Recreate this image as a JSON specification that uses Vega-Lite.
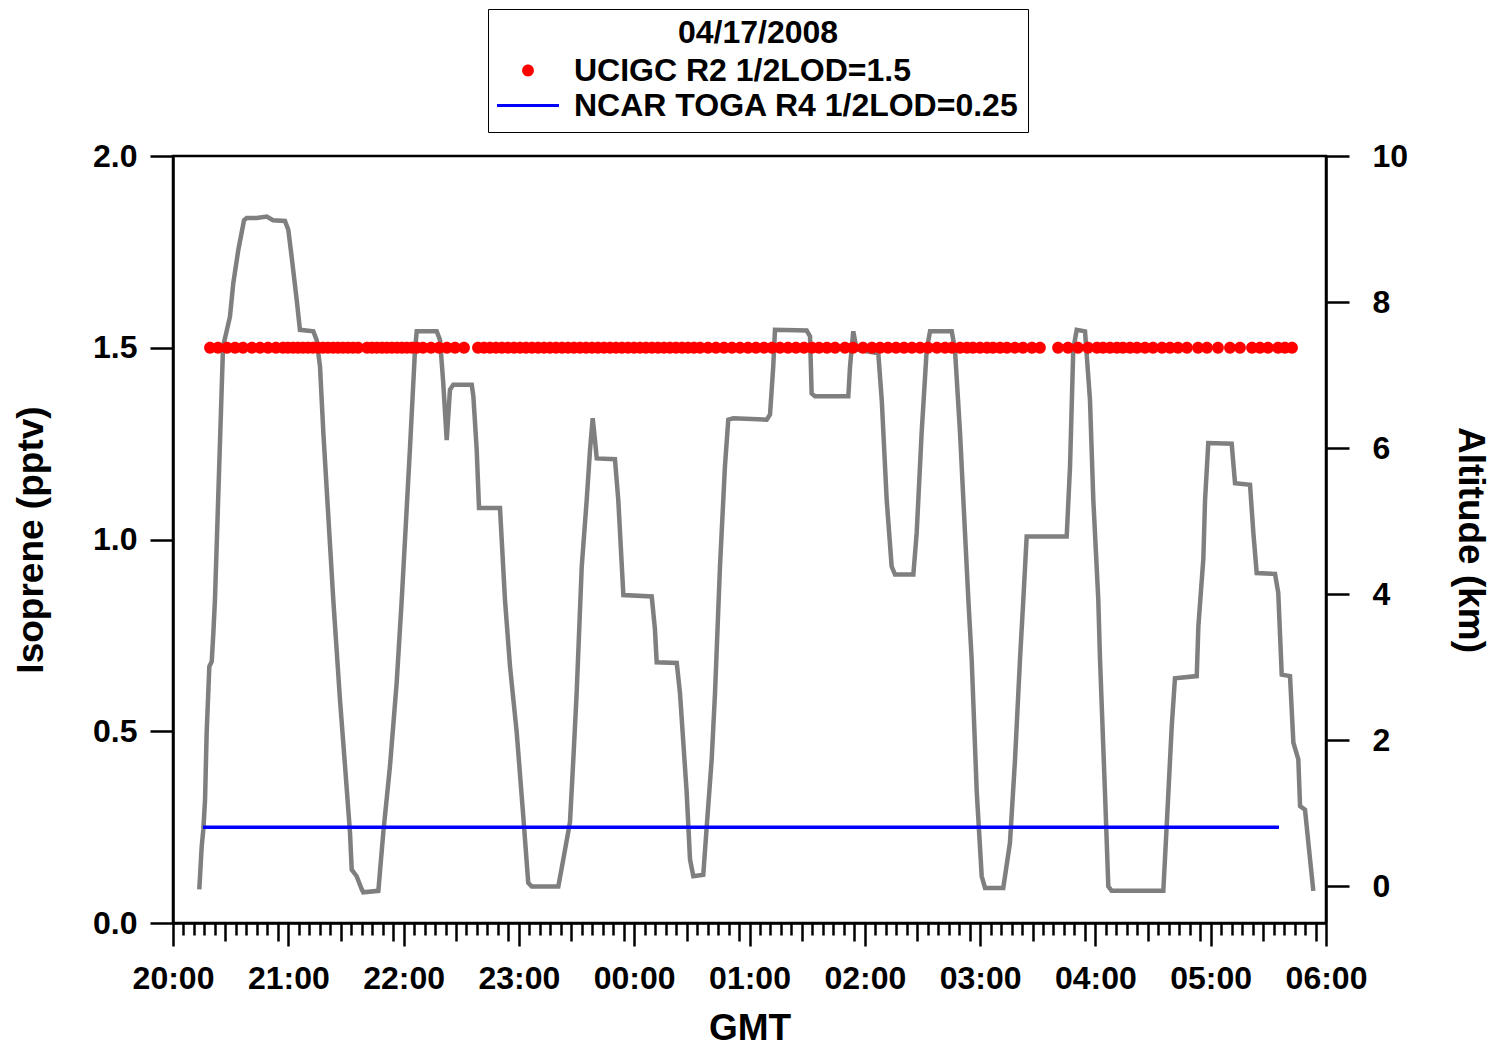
{
  "$schema": "https://vega.github.io/schema/vega-lite/v6.json",
  "width": 1153,
  "height": 767,
  "autosize": {"type": "none"},
  "padding": {"left": 173, "top": 156, "right": 169, "bottom": 125},
  "background": "white",
  "config": {
    "font": "Liberation Sans",
    "view": {"stroke": "black", "strokeWidth": 2.5},
    "axis": {
      "grid": false,
      "domainColor": "black",
      "domainWidth": 2.5,
      "tickColor": "black",
      "tickWidth": 2.5,
      "labelColor": "black",
      "labelFont": "Liberation Sans",
      "labelFontSize": 32,
      "labelFontWeight": "bold",
      "titleColor": "black",
      "titleFont": "Liberation Sans",
      "titleFontSize": 37,
      "titleFontWeight": "bold"
    }
  },
  "datasets": {
    "altitude": [
      {"gmt_hour": 20.228, "alt_km": -0.04}, {"gmt_hour": 20.249, "alt_km": 0.55}, {"gmt_hour": 20.263, "alt_km": 0.78},
      {"gmt_hour": 20.278, "alt_km": 1.19}, {"gmt_hour": 20.292, "alt_km": 2.11}, {"gmt_hour": 20.315, "alt_km": 3.01},
      {"gmt_hour": 20.336, "alt_km": 3.08}, {"gmt_hour": 20.35, "alt_km": 3.47}, {"gmt_hour": 20.364, "alt_km": 3.93},
      {"gmt_hour": 20.434, "alt_km": 7.39}, {"gmt_hour": 20.494, "alt_km": 7.8}, {"gmt_hour": 20.523, "alt_km": 8.26},
      {"gmt_hour": 20.566, "alt_km": 8.71}, {"gmt_hour": 20.616, "alt_km": 9.12}, {"gmt_hour": 20.639, "alt_km": 9.15},
      {"gmt_hour": 20.726, "alt_km": 9.15}, {"gmt_hour": 20.813, "alt_km": 9.17}, {"gmt_hour": 20.867, "alt_km": 9.12},
      {"gmt_hour": 20.971, "alt_km": 9.11}, {"gmt_hour": 21.0, "alt_km": 8.99}, {"gmt_hour": 21.029, "alt_km": 8.62},
      {"gmt_hour": 21.073, "alt_km": 8.03}, {"gmt_hour": 21.101, "alt_km": 7.62}, {"gmt_hour": 21.217, "alt_km": 7.6},
      {"gmt_hour": 21.246, "alt_km": 7.48}, {"gmt_hour": 21.275, "alt_km": 7.12}, {"gmt_hour": 21.304, "alt_km": 6.21},
      {"gmt_hour": 21.39, "alt_km": 3.93}, {"gmt_hour": 21.448, "alt_km": 2.56}, {"gmt_hour": 21.492, "alt_km": 1.65},
      {"gmt_hour": 21.535, "alt_km": 0.74}, {"gmt_hour": 21.55, "alt_km": 0.23}, {"gmt_hour": 21.593, "alt_km": 0.14},
      {"gmt_hour": 21.637, "alt_km": -0.04}, {"gmt_hour": 21.65, "alt_km": -0.08}, {"gmt_hour": 21.781, "alt_km": -0.06},
      {"gmt_hour": 21.824, "alt_km": 0.74}, {"gmt_hour": 21.882, "alt_km": 1.65}, {"gmt_hour": 21.94, "alt_km": 2.79},
      {"gmt_hour": 21.984, "alt_km": 3.93}, {"gmt_hour": 22.056, "alt_km": 6.02}, {"gmt_hour": 22.099, "alt_km": 7.35},
      {"gmt_hour": 22.114, "alt_km": 7.6}, {"gmt_hour": 22.287, "alt_km": 7.6}, {"gmt_hour": 22.316, "alt_km": 7.48},
      {"gmt_hour": 22.344, "alt_km": 6.89}, {"gmt_hour": 22.374, "alt_km": 6.11}, {"gmt_hour": 22.402, "alt_km": 6.8},
      {"gmt_hour": 22.431, "alt_km": 6.87}, {"gmt_hour": 22.591, "alt_km": 6.87}, {"gmt_hour": 22.605, "alt_km": 6.71},
      {"gmt_hour": 22.634, "alt_km": 5.98}, {"gmt_hour": 22.654, "alt_km": 5.18}, {"gmt_hour": 22.836, "alt_km": 5.18},
      {"gmt_hour": 22.879, "alt_km": 3.93}, {"gmt_hour": 22.923, "alt_km": 3.01}, {"gmt_hour": 22.981, "alt_km": 2.11},
      {"gmt_hour": 23.038, "alt_km": 0.96}, {"gmt_hour": 23.081, "alt_km": 0.05}, {"gmt_hour": 23.111, "alt_km": 0.0},
      {"gmt_hour": 23.342, "alt_km": 0.0}, {"gmt_hour": 23.385, "alt_km": 0.37}, {"gmt_hour": 23.443, "alt_km": 0.88},
      {"gmt_hour": 23.472, "alt_km": 1.74}, {"gmt_hour": 23.501, "alt_km": 2.65}, {"gmt_hour": 23.545, "alt_km": 4.38},
      {"gmt_hour": 23.588, "alt_km": 5.29}, {"gmt_hour": 23.617, "alt_km": 5.98}, {"gmt_hour": 23.64, "alt_km": 6.41},
      {"gmt_hour": 23.66, "alt_km": 6.11}, {"gmt_hour": 23.675, "alt_km": 5.86}, {"gmt_hour": 23.833, "alt_km": 5.85},
      {"gmt_hour": 23.862, "alt_km": 5.29}, {"gmt_hour": 23.906, "alt_km": 3.99}, {"gmt_hour": 24.152, "alt_km": 3.97},
      {"gmt_hour": 24.18, "alt_km": 3.52}, {"gmt_hour": 24.195, "alt_km": 3.07}, {"gmt_hour": 24.369, "alt_km": 3.06},
      {"gmt_hour": 24.397, "alt_km": 2.65}, {"gmt_hour": 24.426, "alt_km": 1.97}, {"gmt_hour": 24.455, "alt_km": 1.29},
      {"gmt_hour": 24.484, "alt_km": 0.37}, {"gmt_hour": 24.513, "alt_km": 0.14}, {"gmt_hour": 24.599, "alt_km": 0.16},
      {"gmt_hour": 24.629, "alt_km": 0.82}, {"gmt_hour": 24.672, "alt_km": 1.74}, {"gmt_hour": 24.701, "alt_km": 2.65},
      {"gmt_hour": 24.744, "alt_km": 4.38}, {"gmt_hour": 24.787, "alt_km": 5.75}, {"gmt_hour": 24.816, "alt_km": 6.39},
      {"gmt_hour": 24.86, "alt_km": 6.41}, {"gmt_hour": 25.149, "alt_km": 6.39}, {"gmt_hour": 25.178, "alt_km": 6.46},
      {"gmt_hour": 25.206, "alt_km": 7.12}, {"gmt_hour": 25.221, "alt_km": 7.62}, {"gmt_hour": 25.496, "alt_km": 7.61},
      {"gmt_hour": 25.525, "alt_km": 7.53}, {"gmt_hour": 25.539, "alt_km": 6.75}, {"gmt_hour": 25.568, "alt_km": 6.71},
      {"gmt_hour": 25.857, "alt_km": 6.71}, {"gmt_hour": 25.872, "alt_km": 7.12}, {"gmt_hour": 25.9, "alt_km": 7.6},
      {"gmt_hour": 25.93, "alt_km": 7.35}, {"gmt_hour": 26.117, "alt_km": 7.3}, {"gmt_hour": 26.147, "alt_km": 6.66},
      {"gmt_hour": 26.19, "alt_km": 5.29}, {"gmt_hour": 26.233, "alt_km": 4.38}, {"gmt_hour": 26.262, "alt_km": 4.27},
      {"gmt_hour": 26.421, "alt_km": 4.27}, {"gmt_hour": 26.45, "alt_km": 4.84}, {"gmt_hour": 26.493, "alt_km": 6.21},
      {"gmt_hour": 26.537, "alt_km": 7.35}, {"gmt_hour": 26.566, "alt_km": 7.6}, {"gmt_hour": 26.754, "alt_km": 7.6},
      {"gmt_hour": 26.782, "alt_km": 7.35}, {"gmt_hour": 26.826, "alt_km": 6.21}, {"gmt_hour": 26.869, "alt_km": 4.84},
      {"gmt_hour": 26.898, "alt_km": 3.93}, {"gmt_hour": 26.927, "alt_km": 3.11}, {"gmt_hour": 26.971, "alt_km": 1.29},
      {"gmt_hour": 27.014, "alt_km": 0.14}, {"gmt_hour": 27.043, "alt_km": -0.02}, {"gmt_hour": 27.201, "alt_km": -0.02},
      {"gmt_hour": 27.259, "alt_km": 0.6}, {"gmt_hour": 27.303, "alt_km": 1.74}, {"gmt_hour": 27.346, "alt_km": 3.11},
      {"gmt_hour": 27.375, "alt_km": 3.93}, {"gmt_hour": 27.404, "alt_km": 4.79}, {"gmt_hour": 27.751, "alt_km": 4.79},
      {"gmt_hour": 27.78, "alt_km": 5.75}, {"gmt_hour": 27.808, "alt_km": 7.35}, {"gmt_hour": 27.838, "alt_km": 7.62},
      {"gmt_hour": 27.91, "alt_km": 7.6}, {"gmt_hour": 27.953, "alt_km": 6.66}, {"gmt_hour": 27.982, "alt_km": 5.29},
      {"gmt_hour": 28.025, "alt_km": 3.93}, {"gmt_hour": 28.04, "alt_km": 3.11}, {"gmt_hour": 28.083, "alt_km": 1.29},
      {"gmt_hour": 28.112, "alt_km": 0.0}, {"gmt_hour": 28.141, "alt_km": -0.06}, {"gmt_hour": 28.589, "alt_km": -0.06},
      {"gmt_hour": 28.618, "alt_km": 0.82}, {"gmt_hour": 28.662, "alt_km": 2.19}, {"gmt_hour": 28.69, "alt_km": 2.85},
      {"gmt_hour": 28.879, "alt_km": 2.88}, {"gmt_hour": 28.893, "alt_km": 3.56}, {"gmt_hour": 28.936, "alt_km": 4.48},
      {"gmt_hour": 28.951, "alt_km": 5.29}, {"gmt_hour": 28.979, "alt_km": 6.07}, {"gmt_hour": 29.182, "alt_km": 6.06},
      {"gmt_hour": 29.211, "alt_km": 5.52}, {"gmt_hour": 29.341, "alt_km": 5.5}, {"gmt_hour": 29.37, "alt_km": 4.84},
      {"gmt_hour": 29.399, "alt_km": 4.29}, {"gmt_hour": 29.558, "alt_km": 4.28}, {"gmt_hour": 29.586, "alt_km": 4.02},
      {"gmt_hour": 29.616, "alt_km": 2.9}, {"gmt_hour": 29.688, "alt_km": 2.88}, {"gmt_hour": 29.717, "alt_km": 1.97},
      {"gmt_hour": 29.76, "alt_km": 1.74}, {"gmt_hour": 29.775, "alt_km": 1.1}, {"gmt_hour": 29.818, "alt_km": 1.05},
      {"gmt_hour": 29.847, "alt_km": 0.6}, {"gmt_hour": 29.89, "alt_km": -0.06}
    ],
    "toga": [
      {"gmt_hour": 20.26, "isoprene": 0.25}, {"gmt_hour": 20.5, "isoprene": 0.25}, {"gmt_hour": 21.0, "isoprene": 0.25},
      {"gmt_hour": 21.5, "isoprene": 0.25}, {"gmt_hour": 22.0, "isoprene": 0.25}, {"gmt_hour": 22.5, "isoprene": 0.25},
      {"gmt_hour": 23.0, "isoprene": 0.25}, {"gmt_hour": 23.5, "isoprene": 0.25}, {"gmt_hour": 24.0, "isoprene": 0.25},
      {"gmt_hour": 24.5, "isoprene": 0.25}, {"gmt_hour": 25.0, "isoprene": 0.25}, {"gmt_hour": 25.5, "isoprene": 0.25},
      {"gmt_hour": 26.0, "isoprene": 0.25}, {"gmt_hour": 26.5, "isoprene": 0.25}, {"gmt_hour": 27.0, "isoprene": 0.25},
      {"gmt_hour": 27.5, "isoprene": 0.25}, {"gmt_hour": 28.0, "isoprene": 0.25}, {"gmt_hour": 28.5, "isoprene": 0.25},
      {"gmt_hour": 29.0, "isoprene": 0.25}, {"gmt_hour": 29.5, "isoprene": 0.25}, {"gmt_hour": 29.592, "isoprene": 0.25}
    ],
    "ucigc": [
      {"gmt_hour": 20.321, "isoprene": 1.5, "series": "UCIGC R2 1/2LOD=1.5"}, {"gmt_hour": 20.39, "isoprene": 1.5, "series": "UCIGC R2 1/2LOD=1.5"},
      {"gmt_hour": 20.468, "isoprene": 1.5, "series": "UCIGC R2 1/2LOD=1.5"}, {"gmt_hour": 20.538, "isoprene": 1.5, "series": "UCIGC R2 1/2LOD=1.5"},
      {"gmt_hour": 20.607, "isoprene": 1.5, "series": "UCIGC R2 1/2LOD=1.5"}, {"gmt_hour": 20.685, "isoprene": 1.5, "series": "UCIGC R2 1/2LOD=1.5"},
      {"gmt_hour": 20.755, "isoprene": 1.5, "series": "UCIGC R2 1/2LOD=1.5"}, {"gmt_hour": 20.824, "isoprene": 1.5, "series": "UCIGC R2 1/2LOD=1.5"},
      {"gmt_hour": 20.893, "isoprene": 1.5, "series": "UCIGC R2 1/2LOD=1.5"}, {"gmt_hour": 20.954, "isoprene": 1.5, "series": "UCIGC R2 1/2LOD=1.5"},
      {"gmt_hour": 20.997, "isoprene": 1.5, "series": "UCIGC R2 1/2LOD=1.5"}, {"gmt_hour": 21.041, "isoprene": 1.5, "series": "UCIGC R2 1/2LOD=1.5"},
      {"gmt_hour": 21.084, "isoprene": 1.5, "series": "UCIGC R2 1/2LOD=1.5"}, {"gmt_hour": 21.127, "isoprene": 1.5, "series": "UCIGC R2 1/2LOD=1.5"},
      {"gmt_hour": 21.171, "isoprene": 1.5, "series": "UCIGC R2 1/2LOD=1.5"}, {"gmt_hour": 21.214, "isoprene": 1.5, "series": "UCIGC R2 1/2LOD=1.5"},
      {"gmt_hour": 21.258, "isoprene": 1.5, "series": "UCIGC R2 1/2LOD=1.5"}, {"gmt_hour": 21.301, "isoprene": 1.5, "series": "UCIGC R2 1/2LOD=1.5"},
      {"gmt_hour": 21.344, "isoprene": 1.5, "series": "UCIGC R2 1/2LOD=1.5"}, {"gmt_hour": 21.388, "isoprene": 1.5, "series": "UCIGC R2 1/2LOD=1.5"},
      {"gmt_hour": 21.431, "isoprene": 1.5, "series": "UCIGC R2 1/2LOD=1.5"}, {"gmt_hour": 21.474, "isoprene": 1.5, "series": "UCIGC R2 1/2LOD=1.5"},
      {"gmt_hour": 21.518, "isoprene": 1.5, "series": "UCIGC R2 1/2LOD=1.5"}, {"gmt_hour": 21.561, "isoprene": 1.5, "series": "UCIGC R2 1/2LOD=1.5"},
      {"gmt_hour": 21.605, "isoprene": 1.5, "series": "UCIGC R2 1/2LOD=1.5"}, {"gmt_hour": 21.683, "isoprene": 1.5, "series": "UCIGC R2 1/2LOD=1.5"},
      {"gmt_hour": 21.726, "isoprene": 1.5, "series": "UCIGC R2 1/2LOD=1.5"}, {"gmt_hour": 21.769, "isoprene": 1.5, "series": "UCIGC R2 1/2LOD=1.5"},
      {"gmt_hour": 21.813, "isoprene": 1.5, "series": "UCIGC R2 1/2LOD=1.5"}, {"gmt_hour": 21.856, "isoprene": 1.5, "series": "UCIGC R2 1/2LOD=1.5"},
      {"gmt_hour": 21.899, "isoprene": 1.5, "series": "UCIGC R2 1/2LOD=1.5"}, {"gmt_hour": 21.943, "isoprene": 1.5, "series": "UCIGC R2 1/2LOD=1.5"},
      {"gmt_hour": 21.986, "isoprene": 1.5, "series": "UCIGC R2 1/2LOD=1.5"}, {"gmt_hour": 22.029, "isoprene": 1.5, "series": "UCIGC R2 1/2LOD=1.5"},
      {"gmt_hour": 22.073, "isoprene": 1.5, "series": "UCIGC R2 1/2LOD=1.5"}, {"gmt_hour": 22.116, "isoprene": 1.5, "series": "UCIGC R2 1/2LOD=1.5"},
      {"gmt_hour": 22.168, "isoprene": 1.5, "series": "UCIGC R2 1/2LOD=1.5"}, {"gmt_hour": 22.238, "isoprene": 1.5, "series": "UCIGC R2 1/2LOD=1.5"},
      {"gmt_hour": 22.307, "isoprene": 1.5, "series": "UCIGC R2 1/2LOD=1.5"}, {"gmt_hour": 22.376, "isoprene": 1.5, "series": "UCIGC R2 1/2LOD=1.5"},
      {"gmt_hour": 22.446, "isoprene": 1.5, "series": "UCIGC R2 1/2LOD=1.5"}, {"gmt_hour": 22.524, "isoprene": 1.5, "series": "UCIGC R2 1/2LOD=1.5"},
      {"gmt_hour": 22.645, "isoprene": 1.5, "series": "UCIGC R2 1/2LOD=1.5"}, {"gmt_hour": 22.697, "isoprene": 1.5, "series": "UCIGC R2 1/2LOD=1.5"},
      {"gmt_hour": 22.749, "isoprene": 1.5, "series": "UCIGC R2 1/2LOD=1.5"}, {"gmt_hour": 22.801, "isoprene": 1.5, "series": "UCIGC R2 1/2LOD=1.5"},
      {"gmt_hour": 22.853, "isoprene": 1.5, "series": "UCIGC R2 1/2LOD=1.5"}, {"gmt_hour": 22.905, "isoprene": 1.5, "series": "UCIGC R2 1/2LOD=1.5"},
      {"gmt_hour": 22.957, "isoprene": 1.5, "series": "UCIGC R2 1/2LOD=1.5"}, {"gmt_hour": 23.01, "isoprene": 1.5, "series": "UCIGC R2 1/2LOD=1.5"},
      {"gmt_hour": 23.062, "isoprene": 1.5, "series": "UCIGC R2 1/2LOD=1.5"}, {"gmt_hour": 23.114, "isoprene": 1.5, "series": "UCIGC R2 1/2LOD=1.5"},
      {"gmt_hour": 23.166, "isoprene": 1.5, "series": "UCIGC R2 1/2LOD=1.5"}, {"gmt_hour": 23.218, "isoprene": 1.5, "series": "UCIGC R2 1/2LOD=1.5"},
      {"gmt_hour": 23.27, "isoprene": 1.5, "series": "UCIGC R2 1/2LOD=1.5"}, {"gmt_hour": 23.322, "isoprene": 1.5, "series": "UCIGC R2 1/2LOD=1.5"},
      {"gmt_hour": 23.374, "isoprene": 1.5, "series": "UCIGC R2 1/2LOD=1.5"}, {"gmt_hour": 23.426, "isoprene": 1.5, "series": "UCIGC R2 1/2LOD=1.5"},
      {"gmt_hour": 23.478, "isoprene": 1.5, "series": "UCIGC R2 1/2LOD=1.5"}, {"gmt_hour": 23.53, "isoprene": 1.5, "series": "UCIGC R2 1/2LOD=1.5"},
      {"gmt_hour": 23.582, "isoprene": 1.5, "series": "UCIGC R2 1/2LOD=1.5"}, {"gmt_hour": 23.634, "isoprene": 1.5, "series": "UCIGC R2 1/2LOD=1.5"},
      {"gmt_hour": 23.686, "isoprene": 1.5, "series": "UCIGC R2 1/2LOD=1.5"}, {"gmt_hour": 23.738, "isoprene": 1.5, "series": "UCIGC R2 1/2LOD=1.5"},
      {"gmt_hour": 23.79, "isoprene": 1.5, "series": "UCIGC R2 1/2LOD=1.5"}, {"gmt_hour": 23.842, "isoprene": 1.5, "series": "UCIGC R2 1/2LOD=1.5"},
      {"gmt_hour": 23.894, "isoprene": 1.5, "series": "UCIGC R2 1/2LOD=1.5"}, {"gmt_hour": 23.946, "isoprene": 1.5, "series": "UCIGC R2 1/2LOD=1.5"},
      {"gmt_hour": 23.998, "isoprene": 1.5, "series": "UCIGC R2 1/2LOD=1.5"}, {"gmt_hour": 24.05, "isoprene": 1.5, "series": "UCIGC R2 1/2LOD=1.5"},
      {"gmt_hour": 24.102, "isoprene": 1.5, "series": "UCIGC R2 1/2LOD=1.5"}, {"gmt_hour": 24.154, "isoprene": 1.5, "series": "UCIGC R2 1/2LOD=1.5"},
      {"gmt_hour": 24.206, "isoprene": 1.5, "series": "UCIGC R2 1/2LOD=1.5"}, {"gmt_hour": 24.258, "isoprene": 1.5, "series": "UCIGC R2 1/2LOD=1.5"},
      {"gmt_hour": 24.31, "isoprene": 1.5, "series": "UCIGC R2 1/2LOD=1.5"}, {"gmt_hour": 24.362, "isoprene": 1.5, "series": "UCIGC R2 1/2LOD=1.5"},
      {"gmt_hour": 24.415, "isoprene": 1.5, "series": "UCIGC R2 1/2LOD=1.5"}, {"gmt_hour": 24.467, "isoprene": 1.5, "series": "UCIGC R2 1/2LOD=1.5"},
      {"gmt_hour": 24.519, "isoprene": 1.5, "series": "UCIGC R2 1/2LOD=1.5"}, {"gmt_hour": 24.571, "isoprene": 1.5, "series": "UCIGC R2 1/2LOD=1.5"},
      {"gmt_hour": 24.64, "isoprene": 1.5, "series": "UCIGC R2 1/2LOD=1.5"}, {"gmt_hour": 24.709, "isoprene": 1.5, "series": "UCIGC R2 1/2LOD=1.5"},
      {"gmt_hour": 24.779, "isoprene": 1.5, "series": "UCIGC R2 1/2LOD=1.5"}, {"gmt_hour": 24.848, "isoprene": 1.5, "series": "UCIGC R2 1/2LOD=1.5"},
      {"gmt_hour": 24.918, "isoprene": 1.5, "series": "UCIGC R2 1/2LOD=1.5"}, {"gmt_hour": 24.987, "isoprene": 1.5, "series": "UCIGC R2 1/2LOD=1.5"},
      {"gmt_hour": 25.056, "isoprene": 1.5, "series": "UCIGC R2 1/2LOD=1.5"}, {"gmt_hour": 25.126, "isoprene": 1.5, "series": "UCIGC R2 1/2LOD=1.5"},
      {"gmt_hour": 25.195, "isoprene": 1.5, "series": "UCIGC R2 1/2LOD=1.5"}, {"gmt_hour": 25.264, "isoprene": 1.5, "series": "UCIGC R2 1/2LOD=1.5"},
      {"gmt_hour": 25.334, "isoprene": 1.5, "series": "UCIGC R2 1/2LOD=1.5"}, {"gmt_hour": 25.403, "isoprene": 1.5, "series": "UCIGC R2 1/2LOD=1.5"},
      {"gmt_hour": 25.473, "isoprene": 1.5, "series": "UCIGC R2 1/2LOD=1.5"}, {"gmt_hour": 25.542, "isoprene": 1.5, "series": "UCIGC R2 1/2LOD=1.5"},
      {"gmt_hour": 25.603, "isoprene": 1.5, "series": "UCIGC R2 1/2LOD=1.5"}, {"gmt_hour": 25.672, "isoprene": 1.5, "series": "UCIGC R2 1/2LOD=1.5"},
      {"gmt_hour": 25.742, "isoprene": 1.5, "series": "UCIGC R2 1/2LOD=1.5"}, {"gmt_hour": 25.828, "isoprene": 1.5, "series": "UCIGC R2 1/2LOD=1.5"},
      {"gmt_hour": 25.898, "isoprene": 1.5, "series": "UCIGC R2 1/2LOD=1.5"}, {"gmt_hour": 25.984, "isoprene": 1.5, "series": "UCIGC R2 1/2LOD=1.5"},
      {"gmt_hour": 26.062, "isoprene": 1.5, "series": "UCIGC R2 1/2LOD=1.5"}, {"gmt_hour": 26.132, "isoprene": 1.5, "series": "UCIGC R2 1/2LOD=1.5"},
      {"gmt_hour": 26.201, "isoprene": 1.5, "series": "UCIGC R2 1/2LOD=1.5"}, {"gmt_hour": 26.271, "isoprene": 1.5, "series": "UCIGC R2 1/2LOD=1.5"},
      {"gmt_hour": 26.34, "isoprene": 1.5, "series": "UCIGC R2 1/2LOD=1.5"}, {"gmt_hour": 26.409, "isoprene": 1.5, "series": "UCIGC R2 1/2LOD=1.5"},
      {"gmt_hour": 26.479, "isoprene": 1.5, "series": "UCIGC R2 1/2LOD=1.5"}, {"gmt_hour": 26.548, "isoprene": 1.5, "series": "UCIGC R2 1/2LOD=1.5"},
      {"gmt_hour": 26.626, "isoprene": 1.5, "series": "UCIGC R2 1/2LOD=1.5"}, {"gmt_hour": 26.696, "isoprene": 1.5, "series": "UCIGC R2 1/2LOD=1.5"},
      {"gmt_hour": 26.756, "isoprene": 1.5, "series": "UCIGC R2 1/2LOD=1.5"}, {"gmt_hour": 26.826, "isoprene": 1.5, "series": "UCIGC R2 1/2LOD=1.5"},
      {"gmt_hour": 26.886, "isoprene": 1.5, "series": "UCIGC R2 1/2LOD=1.5"}, {"gmt_hour": 26.938, "isoprene": 1.5, "series": "UCIGC R2 1/2LOD=1.5"},
      {"gmt_hour": 26.999, "isoprene": 1.5, "series": "UCIGC R2 1/2LOD=1.5"}, {"gmt_hour": 27.06, "isoprene": 1.5, "series": "UCIGC R2 1/2LOD=1.5"},
      {"gmt_hour": 27.112, "isoprene": 1.5, "series": "UCIGC R2 1/2LOD=1.5"}, {"gmt_hour": 27.173, "isoprene": 1.5, "series": "UCIGC R2 1/2LOD=1.5"},
      {"gmt_hour": 27.233, "isoprene": 1.5, "series": "UCIGC R2 1/2LOD=1.5"}, {"gmt_hour": 27.303, "isoprene": 1.5, "series": "UCIGC R2 1/2LOD=1.5"},
      {"gmt_hour": 27.372, "isoprene": 1.5, "series": "UCIGC R2 1/2LOD=1.5"}, {"gmt_hour": 27.45, "isoprene": 1.5, "series": "UCIGC R2 1/2LOD=1.5"},
      {"gmt_hour": 27.519, "isoprene": 1.5, "series": "UCIGC R2 1/2LOD=1.5"}, {"gmt_hour": 27.676, "isoprene": 1.5, "series": "UCIGC R2 1/2LOD=1.5"},
      {"gmt_hour": 27.762, "isoprene": 1.5, "series": "UCIGC R2 1/2LOD=1.5"}, {"gmt_hour": 27.849, "isoprene": 1.5, "series": "UCIGC R2 1/2LOD=1.5"},
      {"gmt_hour": 27.936, "isoprene": 1.5, "series": "UCIGC R2 1/2LOD=1.5"}, {"gmt_hour": 28.014, "isoprene": 1.5, "series": "UCIGC R2 1/2LOD=1.5"},
      {"gmt_hour": 28.066, "isoprene": 1.5, "series": "UCIGC R2 1/2LOD=1.5"}, {"gmt_hour": 28.127, "isoprene": 1.5, "series": "UCIGC R2 1/2LOD=1.5"},
      {"gmt_hour": 28.187, "isoprene": 1.5, "series": "UCIGC R2 1/2LOD=1.5"}, {"gmt_hour": 28.239, "isoprene": 1.5, "series": "UCIGC R2 1/2LOD=1.5"},
      {"gmt_hour": 28.3, "isoprene": 1.5, "series": "UCIGC R2 1/2LOD=1.5"}, {"gmt_hour": 28.361, "isoprene": 1.5, "series": "UCIGC R2 1/2LOD=1.5"},
      {"gmt_hour": 28.43, "isoprene": 1.5, "series": "UCIGC R2 1/2LOD=1.5"}, {"gmt_hour": 28.5, "isoprene": 1.5, "series": "UCIGC R2 1/2LOD=1.5"},
      {"gmt_hour": 28.578, "isoprene": 1.5, "series": "UCIGC R2 1/2LOD=1.5"}, {"gmt_hour": 28.647, "isoprene": 1.5, "series": "UCIGC R2 1/2LOD=1.5"},
      {"gmt_hour": 28.716, "isoprene": 1.5, "series": "UCIGC R2 1/2LOD=1.5"}, {"gmt_hour": 28.794, "isoprene": 1.5, "series": "UCIGC R2 1/2LOD=1.5"},
      {"gmt_hour": 28.89, "isoprene": 1.5, "series": "UCIGC R2 1/2LOD=1.5"}, {"gmt_hour": 28.968, "isoprene": 1.5, "series": "UCIGC R2 1/2LOD=1.5"},
      {"gmt_hour": 29.063, "isoprene": 1.5, "series": "UCIGC R2 1/2LOD=1.5"}, {"gmt_hour": 29.167, "isoprene": 1.5, "series": "UCIGC R2 1/2LOD=1.5"},
      {"gmt_hour": 29.254, "isoprene": 1.5, "series": "UCIGC R2 1/2LOD=1.5"}, {"gmt_hour": 29.358, "isoprene": 1.5, "series": "UCIGC R2 1/2LOD=1.5"},
      {"gmt_hour": 29.427, "isoprene": 1.5, "series": "UCIGC R2 1/2LOD=1.5"}, {"gmt_hour": 29.497, "isoprene": 1.5, "series": "UCIGC R2 1/2LOD=1.5"},
      {"gmt_hour": 29.584, "isoprene": 1.5, "series": "UCIGC R2 1/2LOD=1.5"}, {"gmt_hour": 29.644, "isoprene": 1.5, "series": "UCIGC R2 1/2LOD=1.5"},
      {"gmt_hour": 29.705, "isoprene": 1.5, "series": "UCIGC R2 1/2LOD=1.5"}
    ]
  },
  "resolve": {"scale": {"y": "independent"}, "axis": {"x": "independent", "y": "independent"}},
  "layer": [
    {
      "data": {"name": "altitude"},
      "mark": {"type": "line", "color": "#7f7f7f", "strokeWidth": 4.5, "clip": true},
      "encoding": {
        "x": {
          "field": "gmt_hour", "type": "quantitative",
          "scale": {"domain": [20, 30], "nice": false, "zero": false},
          "axis": {
            "orient": "bottom", "title": "GMT",
            "values": [20, 21, 22, 23, 24, 25, 26, 27, 28, 29, 30],
            "labelExpr": "((datum.value % 24) < 10 ? '0' : '') + (datum.value % 24) + ':00'",
            "tickSize": 23, "labelPadding": 17, "titlePadding": 16,
            "labelFlush": false, "labelOverlap": false
          }
        },
        "y": {
          "field": "alt_km", "type": "quantitative",
          "scale": {"domain": [-0.5, 10], "nice": false, "zero": false},
          "axis": {
            "orient": "right", "title": "Altitude (km)",
            "values": [0, 2, 4, 6, 8, 10],
            "tickSize": 23, "labelPadding": 23, "titlePadding": 43,
            "titleAngle": 90
          }
        }
      }
    },
    {
      "data": {"name": "toga"},
      "mark": {"type": "line", "color": "#0000ff", "strokeWidth": 3.5},
      "encoding": {
        "x": {
          "field": "gmt_hour", "type": "quantitative",
          "scale": {"domain": [20, 30], "nice": false, "zero": false},
          "axis": {
            "orient": "bottom", "title": null, "labels": false, "domain": false,
            "tickSize": 18,
            "values": [20.4545, 20.9091, 21.4545, 21.9091, 22.4545, 22.9091, 23.4545, 23.9091, 24.4545, 24.9091,
                       25.4545, 25.9091, 26.4545, 26.9091, 27.4545, 27.9091, 28.4545, 28.9091, 29.4545, 29.9091]
          }
        },
        "y": {
          "field": "isoprene", "type": "quantitative",
          "scale": {"domain": [0, 2], "nice": false},
          "axis": {
            "orient": "left", "title": "Isoprene (pptv)",
            "values": [0, 0.5, 1, 1.5, 2], "format": ".1f",
            "tickSize": 23, "labelPadding": 13, "titlePadding": 42
          }
        }
      }
    },
    {
      "data": {"name": "ucigc"},
      "mark": {"type": "point", "filled": true, "size": 3844, "opacity": 1, "strokeWidth": 0},
      "encoding": {
        "x": {
          "field": "gmt_hour", "type": "quantitative",
          "scale": {"domain": [20, 30], "nice": false, "zero": false},
          "axis": {
            "orient": "bottom", "title": null, "labels": false, "domain": false,
            "tickSize": 12,
            "values": [20.0909, 20.1818, 20.2727, 20.3636, 20.5455, 20.6364, 20.7273, 20.8182,
                       21.0909, 21.1818, 21.2727, 21.3636, 21.5455, 21.6364, 21.7273, 21.8182,
                       22.0909, 22.1818, 22.2727, 22.3636, 22.5455, 22.6364, 22.7273, 22.8182,
                       23.0909, 23.1818, 23.2727, 23.3636, 23.5455, 23.6364, 23.7273, 23.8182,
                       24.0909, 24.1818, 24.2727, 24.3636, 24.5455, 24.6364, 24.7273, 24.8182,
                       25.0909, 25.1818, 25.2727, 25.3636, 25.5455, 25.6364, 25.7273, 25.8182,
                       26.0909, 26.1818, 26.2727, 26.3636, 26.5455, 26.6364, 26.7273, 26.8182,
                       27.0909, 27.1818, 27.2727, 27.3636, 27.5455, 27.6364, 27.7273, 27.8182,
                       28.0909, 28.1818, 28.2727, 28.3636, 28.5455, 28.6364, 28.7273, 28.8182,
                       29.0909, 29.1818, 29.2727, 29.3636, 29.5455, 29.6364, 29.7273, 29.8182]
          }
        },
        "y": {
          "field": "isoprene", "type": "quantitative",
          "scale": {"domain": [0, 2], "nice": false},
          "axis": null
        },
        "color": {
          "field": "series", "type": "nominal",
          "scale": {"domain": ["UCIGC R2 1/2LOD=1.5", "NCAR TOGA R4 1/2LOD=0.25"], "range": ["#ff0000", "#0000ff"]},
          "legend": {
            "title": "04/17/2008",
            "orient": "none", "legendX": 315, "legendY": -147, "direction": "vertical",
            "titleFont": "Liberation Sans", "titleFontSize": 32, "titleFontWeight": "bold", "titleColor": "black",
            "titleAnchor": "middle", "titleLimit": 1000, "titlePadding": 3,
            "labelFont": "Liberation Sans", "labelFontSize": 32, "labelFontWeight": "bold", "labelColor": "black",
            "labelLimit": 1000, "labelOffset": 15,
            "symbolSize": 3844, "symbolStrokeWidth": 0, "clipHeight": 35, "rowPadding": 0,
            "padding": 9, "strokeColor": "black", "fillColor": "white"
          }
        },
        "shape": {
          "field": "series", "type": "nominal",
          "scale": {
            "domain": ["UCIGC R2 1/2LOD=1.5", "NCAR TOGA R4 1/2LOD=0.25"],
            "range": ["M-0.19,0A0.19,0.19,0,1,1,0.19,0A0.19,0.19,0,1,1,-0.19,0Z", "M-1,-0.05H1V0.05H-1Z"]
          },
          "legend": {
            "title": "04/17/2008",
            "orient": "none", "legendX": 315, "legendY": -147, "direction": "vertical",
            "titleFont": "Liberation Sans", "titleFontSize": 32, "titleFontWeight": "bold", "titleColor": "black",
            "titleAnchor": "middle", "titleLimit": 1000, "titlePadding": 3,
            "labelFont": "Liberation Sans", "labelFontSize": 32, "labelFontWeight": "bold", "labelColor": "black",
            "labelLimit": 1000, "labelOffset": 15,
            "symbolSize": 3844, "symbolStrokeWidth": 0, "clipHeight": 35, "rowPadding": 0,
            "padding": 9, "strokeColor": "black", "fillColor": "white"
          }
        }
      }
    }
  ]
}
